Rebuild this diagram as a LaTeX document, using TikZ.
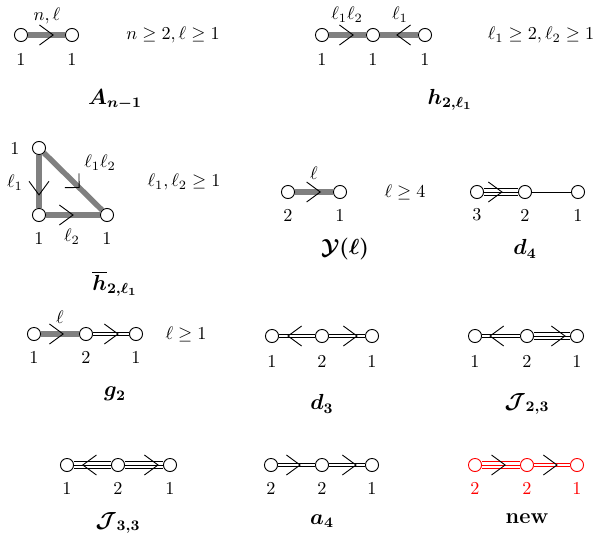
\documentclass[tikz,border=0pt]{standalone}
\usepackage{amsmath}
\usepackage{amssymb}
\usepackage{bm}
\usepackage{xcolor}
\usepackage{tikz}
\usetikzlibrary{decorations.markings, backgrounds}

\begin{document}
\begin{tikzpicture}[x=0.55pt, y=-0.55pt,
  vert/.style={circle, draw, line width=0.5pt, fill=white, minimum size=7.2pt, inner sep=0pt},
  grossa/.style={draw=gray, line width=3pt},
  simples/.style={draw, line width=0.4pt},
  dupla/.style={draw, line width=0.4pt, double, double distance=1.4pt},
  tripla/.style={dupla, double distance=3.4pt, postaction={draw, line width=0.4pt}},
  chev/.style={decorate, decoration={markings, mark=at position #1 with {\draw[line width=0.5pt] (-7.5pt,5.5pt) -- (0,0) -- (-7.5pt,-5.5pt);}}},
  chevq/.style={decorate, decoration={markings, mark=at position #1 with {\draw[line width=0.5pt] (-5.5pt,5.5pt) -- (0,0) -- (-5.5pt,-5.5pt);}}},
  titulo/.style={font=\large}]
  \useasboundingbox (0,0) rectangle (598,541);
  % A_{n-1}
  \node[vert] (a1) at (21,35) {};
  \node[vert] (a2) at (72,35) {};
  \node (a1n) at (21,59) {1};
  \node (a2n) at (72,59) {1};
  \node (ael) at (47,16) {$n,\ell$};
  \node (acond) at (173,35) {$n \geq 2, \ell \geq 1$};
  \node[titulo] (atit) at (115,100) {$\bm{A_{n-1}}$};
  \begin{scope}[on background layer]
    \draw[grossa] (a1) -- (a2);
  \end{scope}
  \path[chev=0.63] (a1.center) -- (a2.center);
  % h_{2,l1}
  \node[vert] (h1) at (322,35) {};
  \node[vert] (h2) at (373,35) {};
  \node[vert] (h3) at (425,35) {};
  \node (h1n) at (322,59) {1};
  \node (h2n) at (373,59) {1};
  \node (h3n) at (425,59) {1};
  \node (hel1) at (347,15) {$\ell_1\ell_2$};
  \node (hel2) at (400,15) {$\ell_1$};
  \node (hcond) at (541,35) {$\ell_1 \geq 2, \ell_2 \geq 1$};
  \node[titulo] (htit) at (450,100) {$\bm{h_{2,\ell_1}}$};
  \begin{scope}[on background layer]
    \draw[grossa] (h1) -- (h2);
    \draw[grossa] (h2) -- (h3);
  \end{scope}
  \path[chev=0.61] (h1.center) -- (h2.center);
  \path[chev=0.54] (h3.center) -- (h2.center);
  % triangulo
  \node[vert] (t1) at (39,148) {};
  \node[vert] (t2) at (39,215) {};
  \node[vert] (t3) at (107,215) {};
  \node (t1n) at (15,148) {1};
  \node (t2n) at (39,238) {1};
  \node (t3n) at (107,238) {1};
  \node (tel1) at (15,183) {$\ell_1$};
  \node (tel2) at (100,163) {$\ell_1\ell_2$};
  \node (tel3) at (72,237) {$\ell_2$};
  \node (tcond) at (184,182) {$\ell_1, \ell_2 \geq 1$};
  \node[titulo] (ttit) at (115,284) {$\bm{\overline{h}_{2,\ell_1}}$};
  \begin{scope}[on background layer]
    \draw[grossa] (t1) -- (t2);
    \draw[grossa] (t2) -- (t3);
    \draw[grossa] (t1) -- (t3);
  \end{scope}
  \path[chev=0.70] (t1.center) -- (t2.center);
  \path[chev=0.50] (t2.center) -- (t3.center);
  \path[chevq=0.59] (t1.center) -- (t3.center);
  % Y(l)
  \node[vert] (y1) at (288,192) {};
  \node[vert] (y2) at (340,192) {};
  \node (y1n) at (288,215) {2};
  \node (y2n) at (340,215) {1};
  \node (yel) at (314,173) {$\ell$};
  \node (ycond) at (405,192) {$\ell \geq 4$};
  \node[titulo] (ytit) at (345,249) {$\bm{\mathcal{Y}(\ell)}$};
  \begin{scope}[on background layer]
    \draw[grossa] (y1) -- (y2);
  \end{scope}
  \path[chev=0.62] (y1.center) -- (y2.center);
  % d_4
  \node[vert] (d1) at (477,192) {};
  \node[vert] (d2) at (525,192) {};
  \node[vert] (d3) at (578,192) {};
  \node (d1n) at (477,215) {3};
  \node (d2n) at (525,215) {2};
  \node (d3n) at (578,215) {1};
  \node[titulo] (dtit) at (525,249) {$\bm{d_4}$};
  \begin{scope}[on background layer]
    \draw[tripla] (d1) -- (d2);
    \draw[simples] (d2) -- (d3);
  \end{scope}
  \path[chev=0.52] (d1.center) -- (d2.center);
  % g_2
  \node[vert] (g1) at (34,334) {};
  \node[vert] (g2) at (86,334) {};
  \node[vert] (g3) at (136,334) {};
  \node (g1n) at (34,357) {1};
  \node (g2n) at (86,357) {2};
  \node (g3n) at (136,357) {1};
  \node (gel) at (60,317) {$\ell$};
  \node (gcond) at (186,334) {$\ell \geq 1$};
  \node[titulo] (gtit) at (115,394) {$\bm{g_2}$};
  \begin{scope}[on background layer]
    \draw[grossa] (g1) -- (g2);
    \draw[dupla] (g2) -- (g3);
  \end{scope}
  \path[chev=0.56] (g1.center) -- (g2.center);
  \path[chev=0.64] (g2.center) -- (g3.center);
  % d_3
  \node[vert] (e1) at (272,336) {};
  \node[vert] (e2) at (322,336) {};
  \node[vert] (e3) at (372,336) {};
  \node (e1n) at (272,361) {1};
  \node (e2n) at (322,361) {2};
  \node (e3n) at (372,361) {1};
  \node[titulo] (etit) at (322,404) {$\bm{d_3}$};
  \begin{scope}[on background layer]
    \draw[dupla] (e1) -- (e2);
    \draw[dupla] (e2) -- (e3);
  \end{scope}
  \path[chev=0.68] (e2.center) -- (e1.center);
  \path[chev=0.70] (e2.center) -- (e3.center);
  % J_{2,3}
  \node[vert] (j1) at (475,336) {};
  \node[vert] (j2) at (527,336) {};
  \node[vert] (j3) at (577,336) {};
  \node (j1n) at (475,361) {1};
  \node (j2n) at (527,361) {2};
  \node (j3n) at (577,361) {1};
  \node[titulo] (jtit) at (527,404) {$\bm{\mathcal{J}_{2,3}}$};
  \begin{scope}[on background layer]
    \draw[dupla] (j1) -- (j2);
    \draw[tripla] (j2) -- (j3);
  \end{scope}
  \path[chev=0.71] (j2.center) -- (j1.center);
  \path[chev=0.76] (j2.center) -- (j3.center);
  % J_{3,3}
  \node[vert] (k1) at (67,465) {};
  \node[vert] (k2) at (118,465) {};
  \node[vert] (k3) at (170,465) {};
  \node (k1n) at (67,488) {1};
  \node (k2n) at (118,488) {2};
  \node (k3n) at (170,488) {1};
  \node[titulo] (ktit) at (118,523) {$\bm{\mathcal{J}_{3,3}}$};
  \begin{scope}[on background layer]
    \draw[tripla] (k1) -- (k2);
    \draw[tripla] (k2) -- (k3);
  \end{scope}
  \path[chev=0.69] (k2.center) -- (k1.center);
  \path[chev=0.77] (k2.center) -- (k3.center);
  % a_4
  \node[vert] (m1) at (271,465) {};
  \node[vert] (m2) at (322,465) {};
  \node[vert] (m3) at (372,465) {};
  \node (m1n) at (271,488) {2};
  \node (m2n) at (322,488) {2};
  \node (m3n) at (372,488) {1};
  \node[titulo] (mtit) at (322,521) {$\bm{a_4}$};
  \begin{scope}[on background layer]
    \draw[dupla] (m1) -- (m2);
    \draw[dupla] (m2) -- (m3);
  \end{scope}
  \path[chev=0.57] (m1.center) -- (m2.center);
  \path[chev=0.68] (m2.center) -- (m3.center);
  % novo (vermelho)
  \node[vert, draw=red] (r1) at (475,465) {};
  \node[vert, draw=red] (r2) at (527,465) {};
  \node[vert, draw=red] (r3) at (577,465) {};
  \node[red] (r1n) at (475,488) {2};
  \node[red] (r2n) at (527,488) {2};
  \node[red] (r3n) at (577,488) {1};
  \node[titulo] (rtit) at (527,519) {\textbf{new}};
  \begin{scope}[on background layer]
    \draw[tripla, red] (r1) -- (r2);
    \draw[dupla, red] (r2) -- (r3);
  \end{scope}
  \path[chev=0.58, red] (r1.center) -- (r2.center);
  \path[chev=0.60, red] (r2.center) -- (r3.center);
\end{tikzpicture}
\end{document}
